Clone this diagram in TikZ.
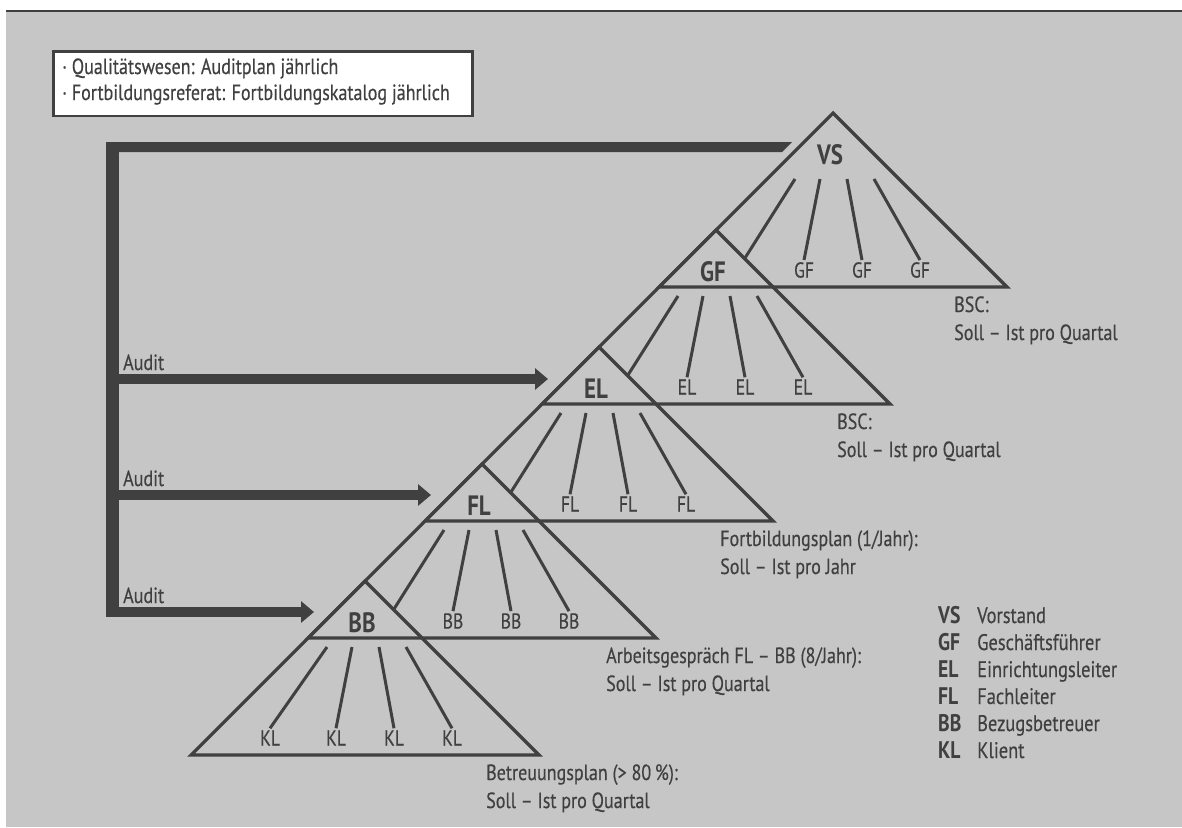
\documentclass[tikz,border=0pt]{standalone}
\usepackage{fontspec}
\setmainfont{PT Sans}[FakeStretch=0.82,UprightFeatures={FakeBold=0.35}]
\usetikzlibrary{arrows.meta}
\definecolor{ink}{HTML}{404040}
\definecolor{panel}{HTML}{C6C6C6}
\begin{document}
\begin{tikzpicture}[x=1pt,y=-1pt,
  tri/.style={draw=ink,line width=3.2pt,line join=miter},
  branch/.style={draw=ink,line width=3pt},
  kid/.style={text=ink,font=\fontsize{21.5}{22}\selectfont,inner sep=2pt},
  rank/.style={text=ink,font=\fontsize{28}{28}\selectfont\bfseries,inner sep=0pt},
  txt/.style={text=ink,font=\fontsize{22}{22}\selectfont,inner sep=0pt,anchor=base west},
  legab/.style={text=ink,font=\fontsize{24}{24}\selectfont\bfseries,inner sep=0pt,anchor=base west},
  legname/.style={text=ink,font=\fontsize{22.5}{23}\selectfont,inner sep=0pt,anchor=base west},
  audit/.style={draw=ink,line width=10pt,-{Triangle[length=13pt,width=21pt]}},
]
\useasboundingbox (0,0) rectangle (1182,827);
% page panel and rule
\fill[panel] (6,12) rectangle (1182,827);
\draw[ink,line width=2pt] (6,11.3) -- (1182,11.3);

% planning box
\node[draw=ink,line width=2.7pt,fill=white,minimum width=419pt,minimum height=64.3pt,
      anchor=north west,inner sep=0pt] (planbox) at (52.3,50.3) {};
\node[txt] (plan1) at (62,74) {· Qualitätswesen: Auditplan jährlich};
\node[txt] (plan2) at (62,100) {· Fortbildungsreferat: Fortbildungskatalog jährlich};

% hierarchy of nested triangles
\foreach \i/\top/\sublab in {0/VS/GF,1/GF/EL,2/EL/FL,3/FL/BB,4/BB/KL}{
  \coordinate (apex\i) at ({833-117*\i},{113+117*\i});
  \draw[tri] (apex\i) -- ++(174,174) coordinate (corner\i) -- ++(-348,0) -- cycle;
  \node[rank] (rank\i) at ([shift={(-3,42)}]apex\i) {\top};
  \foreach \tx/\bx [count=\k from 2] in {-13/-29,14/29,41/87}{
    \node[kid] (kid\i-\k) at ([shift={(\bx,157)}]apex\i) {\sublab};
    \coordinate (stem\i-\k) at ([shift={(\tx,66)}]apex\i);
    \draw[branch] (stem\i-\k) -- (kid\i-\k.north);
  }
  \coordinate (stem\i-1) at ([shift={(-38,66)}]apex\i);
}
% first branch of each level runs into the next triangle
\foreach \i in {0,...,3}{
  \coordinate (join\i) at ([shift={(-88,145)}]apex\i);
  \draw[branch] (stem\i-1) -- (join\i);
}
\node[kid] (kid4-1) at ([shift={(-95,157)}]apex4) {KL};
\draw[branch] (stem4-1) -- (kid4-1.north);

% targets per level
\node[txt] (note0a) at ([shift={(-53,25)}]corner0) {BSC:};
\node[txt] (note0b) at ([shift={(-53,53)}]corner0) {Soll – Ist pro Quartal};
\node[txt] (note1a) at ([shift={(-53,25)}]corner1) {BSC:};
\node[txt] (note1b) at ([shift={(-53,53)}]corner1) {Soll – Ist pro Quartal};
\node[txt] (note2a) at ([shift={(-53,25)}]corner2) {Fortbildungsplan (1/Jahr):};
\node[txt] (note2b) at ([shift={(-53,53)}]corner2) {Soll – Ist pro Jahr};
\node[txt] (note3a) at ([shift={(-50,25)}]corner3) {Arbeitsgespräch FL – BB (8/Jahr):};
\node[txt] (note3b) at ([shift={(-50,53)}]corner3) {Soll – Ist pro Quartal};
\node[txt] (note4a) at ([shift={(-53,25)}]corner4) {Betreuungsplan (> 80\,\%):};
\node[txt] (note4b) at ([shift={(-53,53)}]corner4) {Soll – Ist pro Quartal};

% audit bracket
\fill[ink] (106,142) rectangle (119,617);
\fill[ink] (106,142) -- (792,142) -- (782,152) -- (106,152) -- cycle;
\foreach \i/\y in {2/379,3/495,4/612}{
  \coordinate (spine\i) at (112,\y);
  \coordinate (tip\i) at ([shift={(-51,31)}]apex\i);
  \draw[audit] (spine\i) -- (tip\i |- spine\i);
  \node[txt] (audit\i) at (123,{\y-9}) {Audit};
}

% legend
\foreach \ab/\nm [count=\k from 0] in {VS/Vorstand,GF/Geschäftsführer,EL/Einrichtungsleiter,FL/Fachleiter,BB/Bezugsbetreuer,KL/Klient}{
  \node[legab] (leg\ab) at (938,{623+27*\k}) {\ab};
  \node[legname] (name\ab) at (977,{623+27*\k}) {\nm};
}
\end{tikzpicture}
\end{document}
